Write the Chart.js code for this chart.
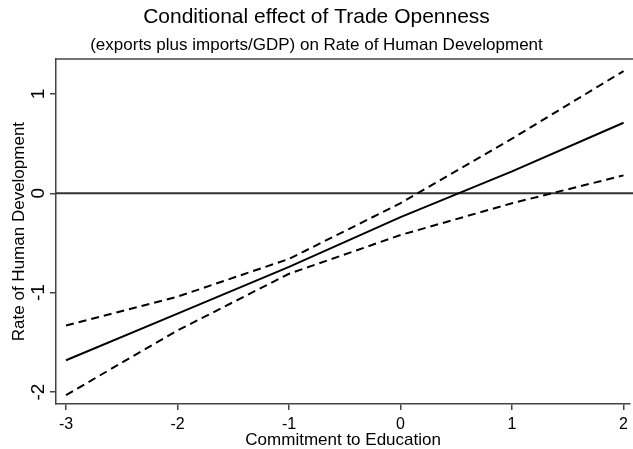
<!DOCTYPE html>
<html>
<head>
<meta charset="utf-8">
<script src="https://cdn.jsdelivr.net/npm/chart.js@4"></script>
<style>
  html, body { margin: 0; padding: 0; background: #fff; }
  #wrap { width: 633px; height: 449px; }
</style>
</head>
<body>
<div id="wrap"><canvas id="effectChart" width="633" height="449"></canvas></div>
<script>
// values
const education = [-3, -2, -1, 0, 1, 2];
const effect = [-1.68, -1.21, -0.74, -0.24, 0.22, 0.71];
const upperCI = [-1.33, -1.04, -0.66, -0.10, 0.55, 1.23];
const lowerCI = [-2.03, -1.38, -0.81, -0.42, -0.10, 0.18];
const xTicks = [-3, -2, -1, 0, 1, 2];
const yTicks = [-2, -1, 0, 1];
const zeroLine = 0;

const pts = (ys) => education.map((x, i) => ({ x: x, y: ys[i] }));

const fontFam = '"Liberation Sans", Arial, sans-serif';
const axisColor = '#444';

// top frame line + horizontal reference line at zero
const framePlugin = {
	id: 'frame',
	beforeDatasetsDraw(chart) {
		const { ctx, chartArea, scales } = chart;
		ctx.save();
		ctx.strokeStyle = axisColor;
		ctx.lineWidth = 1.5;
		ctx.beginPath();
		ctx.moveTo(chartArea.left, chartArea.top);
		ctx.lineTo(chart.width, chartArea.top);
		ctx.stroke();
		const y0 = scales.y.getPixelForValue(zeroLine);
		ctx.strokeStyle = '#333';
		ctx.lineWidth = 2;
		ctx.beginPath();
		ctx.moveTo(chartArea.left, y0);
		ctx.lineTo(chart.width, y0);
		ctx.stroke();
		ctx.restore();
	}
};

let ctx = document.getElementById('effectChart').getContext('2d');

let effectChart = new Chart(ctx, {
	type    : 'line',
	data    : {
		datasets : [
			{
				label       : 'Upper',
				data        : pts(upperCI),
				borderColor : '#000',
				borderWidth : 2,
				borderDash  : [8, 5],
				pointRadius : 0,
				tension     : 0
			},
			{
				label       : 'Effect',
				data        : pts(effect),
				borderColor : '#000',
				borderWidth : 2,
				pointRadius : 0,
				tension     : 0
			},
			{
				label       : 'Lower',
				data        : pts(lowerCI),
				borderColor : '#000',
				borderWidth : 2,
				borderDash  : [8, 5],
				pointRadius : 0,
				tension     : 0
			}
		]
	},
	options : {
		responsive : false,
		animation  : false,
		layout     : { padding: { left: 0, right: 0, top: 0, bottom: 0 } },
		plugins    : {
			legend   : { display: false },
			tooltip  : { enabled: false },
			title    : {
				display : true,
				text    : 'Conditional effect of Trade Openness',
				color   : '#000',
				font    : { family: fontFam, size: 21, weight: 'normal', lineHeight: 1.2 },
				padding : { top: 5, bottom: 3 }
			},
			subtitle : {
				display : true,
				text    : '(exports plus imports/GDP) on Rate of Human Development',
				color   : '#000',
				font    : { family: fontFam, size: 17, weight: 'normal', lineHeight: 1.2 },
				padding : { top: 1.5, bottom: 4 }
			}
		},
		scales     : {
			x : {
				type   : 'linear',
				min    : -3.09,
				max    : 2.06,
				afterBuildTicks : (axis) => { axis.ticks = xTicks.map((v) => ({ value: v })); },
				afterFit : (axis) => { axis.height = 45; },
				grid   : { display: true, drawOnChartArea: false, drawTicks: true, tickLength: 6, color: axisColor, lineWidth: 1.5 },
				border : { display: true, color: axisColor, width: 1.5 },
				ticks  : { color: '#000', padding: 5, maxRotation: 0, autoSkip: false, font: { family: fontFam, size: 16 } },
				title  : { display: true, text: 'Commitment to Education', color: '#000', padding: { top: 0, bottom: -2 }, font: { family: fontFam, size: 17, lineHeight: 1.2 } }
			},
			y : {
				type   : 'linear',
				min    : -2.12,
				max    : 1.35,
				afterBuildTicks : (axis) => { axis.ticks = yTicks.map((v) => ({ value: v })); },
				afterFit : (axis) => { axis.width = 56; },
				grid   : { display: true, drawOnChartArea: false, drawTicks: true, tickLength: 6, color: axisColor, lineWidth: 1.5 },
				border : { display: true, color: axisColor, width: 1.5 },
				ticks  : { color: '#000', padding: 3, minRotation: 90, maxRotation: 90, crossAlign: 'center', autoSkip: false, font: { family: fontFam, size: 19 } },
				title  : { display: true, text: 'Rate of Human Development', color: '#000', padding: { top: 9, bottom: 0 }, font: { family: fontFam, size: 17, lineHeight: 1.2 } }
			}
		}
	},
	plugins : [framePlugin]
});
</script>
</body>
</html>
